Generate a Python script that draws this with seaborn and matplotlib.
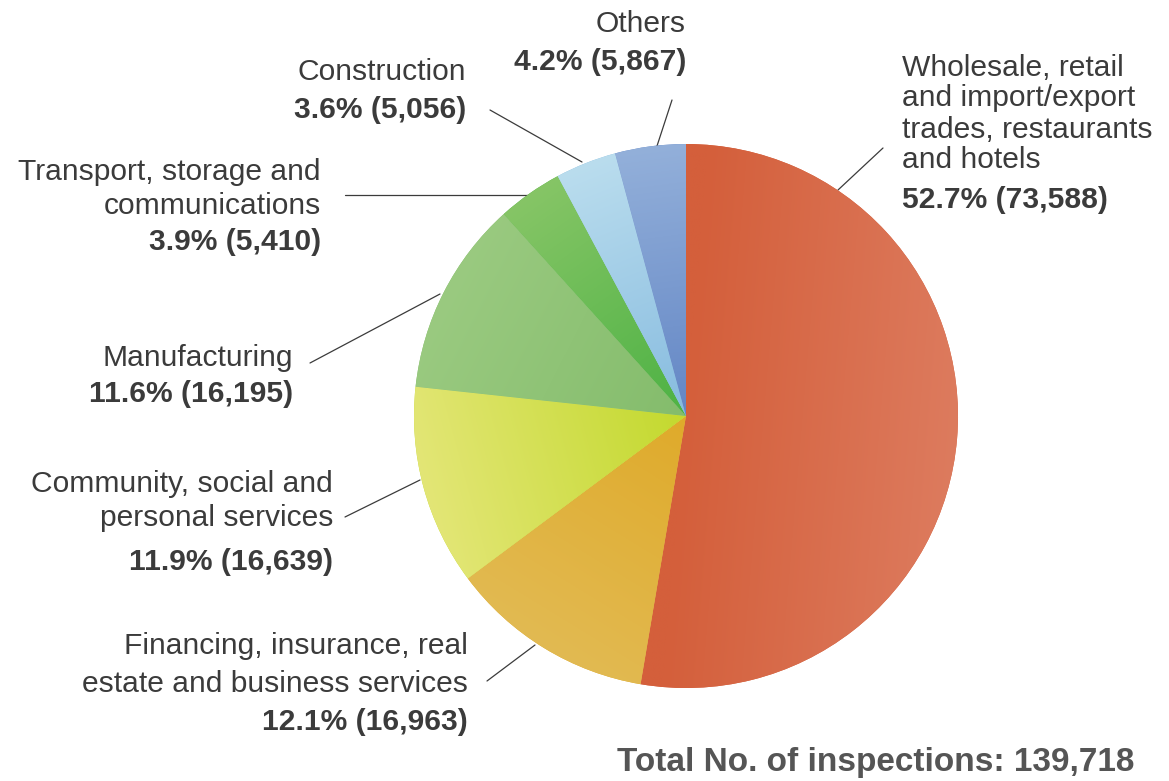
import numpy as np
import matplotlib
matplotlib.use("Agg")
import matplotlib.pyplot as plt
import seaborn as sns
from matplotlib.colors import to_rgb

# ---------------- data ----------------
categories = ["Wholesale, retail\nand import/export\ntrades, restaurants\nand hotels",
              "Financing, insurance, real\nestate and business services",
              "Community, social and\npersonal services",
              "Manufacturing",
              "Transport, storage and\ncommunications",
              "Construction",
              "Others"]
counts = [73588, 16963, 16639, 16195, 5410, 5056, 5867]
percents = [52.7, 12.1, 11.9, 11.6, 3.9, 3.6, 4.2]
total = 139718
inner_colors = ["#D45F3B", "#DFAA2A", "#C3D92E", "#84BC6C", "#4DB244", "#86BBDF", "#6386C5"]
outer_colors = ["#DD7B5E", "#E2BA52", "#E3E676", "#9ACA80", "#86C566", "#BADDEE", "#93B0DA"]

sns.set_theme(style="white")
plt.rcParams['font.family'] = ['Liberation Sans', 'DejaVu Sans']

W, H = 1169, 781
fig = plt.figure(figsize=(W / 100, H / 100), dpi=100)
ax = fig.add_axes([0, 0, 1, 1])
ax.axis('off')

def Y(py):
    return H - py

cx, cy, R = 686, Y(416), 272
wedges, _ = ax.pie(counts, center=(cx, cy), radius=R, startangle=90, counterclock=False,
                   colors=inner_colors, wedgeprops=dict(linewidth=0), normalize=True)
ax.set_xlim(0, W)
ax.set_ylim(0, H)
ax.set_aspect('equal')

# gradient fill per wedge (inner -> outer along the wedge's mid direction)
N = 500
xs = np.linspace(cx - R, cx + R, N)
ys = np.linspace(cy - R, cy + R, N)
X, YY = np.meshgrid(xs, ys)
for w, ci, co in zip(wedges, inner_colors, outer_colors):
    m = np.deg2rad((w.theta1 + w.theta2) / 2)
    t = ((X - cx) * np.cos(m) + (YY - cy) * np.sin(m)) / R
    t = np.clip(t, 0, 1)[..., None]
    rgb = np.array(to_rgb(ci)) * (1 - t) + np.array(to_rgb(co)) * t
    im = ax.imshow(rgb, extent=[cx - R, cx + R, cy - R, cy + R], origin='lower',
                   interpolation='bilinear', zorder=w.get_zorder() + 0.1)
    im.set_clip_path(w)
ax.set_xlim(0, W)
ax.set_ylim(0, H)

TXT = "#3b3b3b"
FS = 21.6

def lines(x, ys_, texts, weights, ha):
    for yy, tx, wt in zip(ys_, texts, weights):
        ax.text(x, Y(yy + 1.5), tx, ha=ha, va='center', fontsize=FS, color=TXT, fontweight=wt)

def pct_label(i):
    return f"{percents[i]}% ({counts[i]:,})"

# Wholesale
n0 = categories[0].split("\n")
lines(902, [66, 97, 128, 159, 198], n0 + [pct_label(0)], ['normal'] * 4 + ['bold'], 'left')
# Financing
n1 = categories[1].split("\n")
lines(468, [645, 682, 720], n1 + [pct_label(1)], ['normal', 'normal', 'bold'], 'right')
# Community
n2 = categories[2].split("\n")
lines(333, [482, 516, 561], n2 + [pct_label(2)], ['normal', 'normal', 'bold'], 'right')
# Manufacturing
lines(293, [356, 392], [categories[3], pct_label(3)], ['normal', 'bold'], 'right')
# Transport
n4 = categories[4].split("\n")
lines(321, [170, 205, 241], n4 + [pct_label(4)], ['normal', 'normal', 'bold'], 'right')
# Construction
lines(466, [70, 108], [categories[5], pct_label(5)], ['normal', 'bold'], 'right')
# Others
lines(686, [22, 60], [categories[6], pct_label(6)], ['normal', 'bold'], 'right')

# leader lines
leaders = [((838, 190), (883, 148)),
           ((535, 645), (487, 681)),
           ((420, 480), (345, 517)),
           ((440, 294), (310, 363)),
           ((528, 195), (345, 195)),
           ((582, 162), (490, 110)),
           ((657, 146), (672, 100))]
for (x1, y1), (x2, y2) in leaders:
    ax.plot([x1, x2], [Y(y1), Y(y2)], color="#3b3b3b", lw=0.9, zorder=1)

ax.text(617, Y(763), f"Total No. of inspections: {total:,}", ha='left', va='center',
        fontsize=24, fontweight='bold', color="#555555")

fig.savefig("out.png", dpi=100)
